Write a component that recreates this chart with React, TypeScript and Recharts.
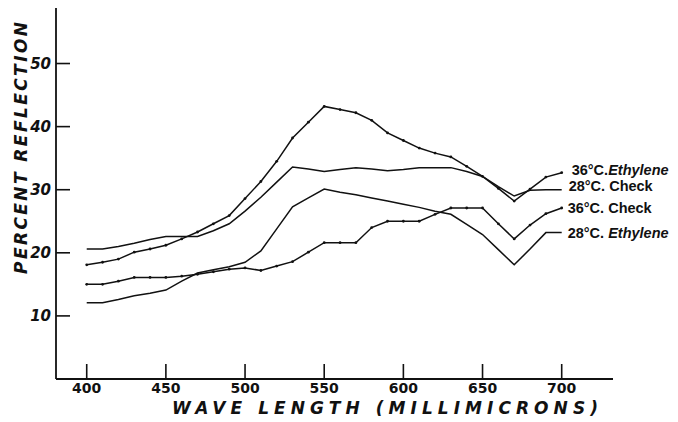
import { LineChart, Line, XAxis, YAxis } from "recharts"

// wavelengths in millimicrons, one reading every 10
const wavelengths = [
  400, 410, 420, 430, 440, 450, 460, 470, 480, 490, 500, 510, 520, 530, 540, 550,
  560, 570, 580, 590, 600, 610, 620, 630, 640, 650, 660, 670, 680, 690, 700,
]

const ethylene36 = [
  18.1, 18.5, 19.0, 20.1, 20.6, 21.2, 22.2, 23.3, 24.6, 25.9, 28.6, 31.3, 34.5, 38.2, 40.7, 43.2,
  42.7, 42.2, 41.0, 39.0, 37.8, 36.6, 35.8, 35.2, 33.7, 32.1, 30.2, 28.2, 30.1, 32.0, 32.7,
]
const check28 = [
  20.6, 20.6, 21.0, 21.5, 22.1, 22.6, 22.6, 22.6, 23.5, 24.6, 26.6, 28.8, 31.2, 33.6, 33.3, 32.9,
  33.2, 33.5, 33.3, 33.0, 33.2, 33.5, 33.5, 33.5, 32.9, 32.1, 30.5, 29.0, 29.9, 30.0, 30.0,
]
const check36 = [
  15.0, 15.0, 15.5, 16.1, 16.1, 16.1, 16.3, 16.6, 17.0, 17.4, 17.6, 17.2, 17.9, 18.6, 20.1, 21.6,
  21.6, 21.6, 24.0, 25.0, 25.0, 25.0, 26.1, 27.1, 27.1, 27.1, 24.6, 22.2, 24.4, 26.2, 27.1,
]
const ethylene28 = [
  12.1, 12.1, 12.6, 13.2, 13.6, 14.1, 15.5, 16.8, 17.3, 17.8, 18.5, 20.3, 23.8, 27.3, 28.7, 30.1,
  29.6, 29.2, 28.7, 28.2, 27.7, 27.2, 26.6, 26.1, 24.5, 22.9, 20.5, 18.1, 20.6, 23.2, 23.2,
]

const xTicks = [400, 450, 500, 550, 600, 650, 700]
const yTicks = [10, 20, 30, 40, 50]

const data = wavelengths.map((wl, i) => ({
  wl,
  eth36: ethylene36[i],
  chk28: check28[i],
  chk36: check36[i],
  eth28: ethylene28[i],
}))

const INK = "#111"
const FONT = "'DejaVu Sans', 'Liberation Sans', sans-serif"
const LABEL_FONT = "'Liberation Sans', Arial, sans-serif"
const LAST = wavelengths.length - 1

function XTick({ x, y, payload }: any) {
  return (
    <g>
      <line x1={x} x2={x} y1={y} y2={y - 15} stroke={INK} strokeWidth={1.6} />
      <text x={x} y={y + 14} textAnchor="middle" fontSize={14} fontWeight={700} fill={INK} fontFamily={FONT}>
        {payload.value}
      </text>
    </g>
  )
}

function YTick({ x, y, payload }: any) {
  return (
    <g>
      <line x1={x} x2={x + 14} y1={y} y2={y} stroke={INK} strokeWidth={1.6} />
      <text x={x - 5} y={y + 5} textAnchor="end" fontSize={15} fontWeight={700} fontStyle="italic" fill={INK} fontFamily={FONT}>
        {payload.value}
      </text>
    </g>
  )
}

function endLabel(main: string, tail: string, dx: number, dy: number, italicTail: boolean) {
  return (props: any) => {
    if (props.index !== LAST) return <g />
    return (
      <g>
        <text x={props.x + dx} y={props.y + dy} fontSize={14.5} fontWeight={700} fill={INK} fontFamily={LABEL_FONT}>
          <tspan>{main}</tspan>
          <tspan fontStyle={italicTail ? "italic" : "normal"}>{tail}</tspan>
        </text>
      </g>
    )
  }
}

const YTitle = () => (
  <text
    transform="translate(19,140) rotate(-90)"
    textAnchor="middle"
    fontSize={17}
    fontWeight={700}
    fontStyle="italic"
    fill={INK}
    fontFamily={FONT}
    textLength={252}
    lengthAdjust="spacing"
  >
    PERCENT REFLECTION
  </text>
)

const XTitle = () => (
  <text
    x={377}
    y={406}
    textAnchor="middle"
    fontSize={17}
    fontWeight={700}
    fontStyle="italic"
    fill={INK}
    fontFamily={FONT}
    textLength={426}
    lengthAdjust="spacing"
  >
    WAVE LENGTH (MILLIMICRONS)
  </text>
)

export default function App() {
  return (
    <LineChart width={670} height={414} data={data} margin={{ top: 0, right: 65, bottom: 0, left: 0 }}>
      <XAxis
        dataKey="wl"
        type="number"
        domain={[380.6, 732.4]}
        ticks={xTicks}
        height={43}
        tickSize={0}
        tickMargin={0}
        tickLine={false}
        tick={<XTick />}
        axisLine={{ stroke: INK, strokeWidth: 1.8 }}
        label={<XTitle />}
        allowDataOverflow
      />
      <YAxis
        type="number"
        domain={[0, 58.8]}
        ticks={yTicks}
        width={48}
        tickSize={0}
        tickMargin={0}
        tickLine={false}
        tick={<YTick />}
        axisLine={{ stroke: INK, strokeWidth: 1.8 }}
        label={<YTitle />}
        allowDataOverflow
      />
      <Line
        dataKey="eth36"
        stroke={INK}
        strokeWidth={1.5}
        dot={{ r: 1.4, fill: INK, stroke: "none" }}
        isAnimationActive={false}
        label={endLabel("36°C.", "Ethylene", 10, 2, true)}
      />
      <Line
        dataKey="chk28"
        stroke={INK}
        strokeWidth={1.5}
        dot={false}
        isAnimationActive={false}
        label={endLabel("28°C. ", "Check", 7, 1, false)}
      />
      <Line
        dataKey="chk36"
        stroke={INK}
        strokeWidth={1.5}
        dot={{ r: 1.4, fill: INK, stroke: "none" }}
        isAnimationActive={false}
        label={endLabel("36°C. ", "Check", 6, 5, false)}
      />
      <Line
        dataKey="eth28"
        stroke={INK}
        strokeWidth={1.5}
        dot={false}
        isAnimationActive={false}
        label={endLabel("28°C. ", "Ethylene", 6, 5, true)}
      />
    </LineChart>
  )
}
